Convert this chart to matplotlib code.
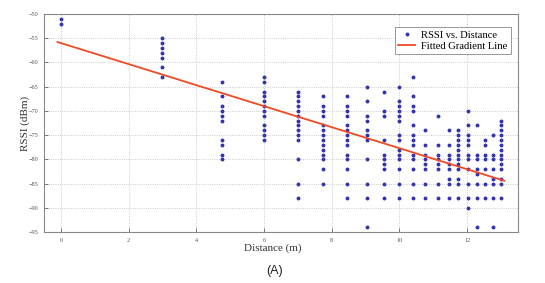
import numpy as np
import matplotlib
matplotlib.use("Agg")
import matplotlib.pyplot as plt

# measurement positions (m) and RSSI readings (dBm) at each position
distances = [0, 3, 4.76, 6, 7, 7.75, 8.44, 9.03, 9.53, 10, 10.4, 10.76,
             11.13, 11.46, 11.74, 12.02, 12.28, 12.54, 12.77, 13.0]
rssi = [
    [-51, -52],
    [-55, -56, -57, -58, -59, -61, -63],
    [-64, -67, -69, -70, -71, -72, -76, -77, -79, -80],
    [-63, -64, -66, -67, -68, -69, -70, -71, -73, -74, -75, -76],
    [-66, -67, -68, -69, -70, -71, -72, -73, -74, -75, -76, -80, -85, -88],
    [-67, -69, -70, -71, -73, -74, -75, -76, -77, -78, -79, -80, -82, -85],
    [-67, -69, -70, -71, -73, -74, -75, -76, -77, -79, -80, -82, -85, -88],
    [-65, -68, -71, -72, -74, -75, -76, -80, -85, -88, -94],
    [-66, -70, -71, -76, -79, -80, -81, -82, -85, -88],
    [-65, -68, -69, -70, -71, -72, -75, -76, -78, -79, -80, -82, -85, -88],
    [-63, -67, -69, -70, -73, -75, -76, -77, -79, -80, -82, -85, -88],
    [-74, -77, -79, -80, -81, -82, -85, -88],
    [-71, -77, -79, -80, -81, -82, -85, -88],
    [-74, -77, -79, -80, -81, -82, -84, -85, -88],
    [-74, -75, -76, -77, -78, -79, -80, -81, -82, -84, -85, -88],
    [-70, -73, -75, -76, -77, -79, -80, -82, -85, -88, -90],
    [-73, -79, -80, -82, -83, -85, -88, -94],
    [-76, -77, -79, -80, -82, -85, -88],
    [-75, -79, -80, -82, -84, -85, -88, -94],
    [-72, -73, -74, -75, -76, -77, -78, -79, -80, -81, -82, -84, -85, -88],
]

# fitted gradient line
fit_intercept = -56.0
fit_slope = -2.17

xs = []
ys = []
for d, col in zip(distances, rssi):
    for v in col:
        xs.append(d)
        ys.append(v)
xs = np.array(xs)
ys = np.array(ys)

serif = ['Liberation Serif', 'DejaVu Serif']

fig = plt.figure(figsize=(5.45, 2.83), dpi=100)
ax = fig.add_axes([0.0807, 0.18, 0.8697, 0.7705])

ax.plot(xs, ys, linestyle='none', marker='o', markersize=1.8,
        color='#3434ae', label='RSSI vs. Distance')
lx = np.array([min(distances) - 0.1, max(distances) + 0.1])
ax.plot(lx, fit_intercept + fit_slope * lx, color='#f04a25', linewidth=1.3,
        label='Fitted Gradient Line')

ax.set_xlim(-0.5, 13.5)
ax.set_ylim(-95, -50)
ax.set_xticks(np.arange(0, 13, 2))
ax.set_yticks(np.arange(-95, -49, 5))
ax.tick_params(direction='in', length=3, width=0.6, color='#666666',
               labelsize=4.5, labelcolor='#555555', pad=4)
for lab in ax.get_xticklabels() + ax.get_yticklabels():
    lab.set_family(serif)
ax.grid(True, linestyle=':', linewidth=0.6, color='#bbbbbb')
for s in ax.spines.values():
    s.set_color('#888888')
    s.set_linewidth(0.8)

ax.set_xlabel('Distance (m)', family=serif, fontsize=8, color='#333333')
ax.xaxis.set_label_coords(0.482, -0.05, transform=ax.transAxes)
ax.xaxis.label.set_va('top')
ax.set_ylabel('RSSI (dBm)', family=serif, fontsize=8, color='#333333')
ax.yaxis.set_label_coords(-0.029, 0.5, transform=ax.transAxes)

leg = ax.legend(loc='upper right', bbox_to_anchor=(0.985, 0.94),
                prop={'family': serif, 'size': 7.6},
                fancybox=False, framealpha=1, edgecolor='#888888',
                borderpad=0.3, labelspacing=0.2, handlelength=1.6,
                handletextpad=0.6, borderaxespad=0)
leg.get_frame().set_linewidth(0.6)

fig.text(0.503, 0.043, '(A)', ha='center', va='center', fontsize=9,
         family='Liberation Sans', color='#222222')

fig.savefig('out.png', dpi=100)
